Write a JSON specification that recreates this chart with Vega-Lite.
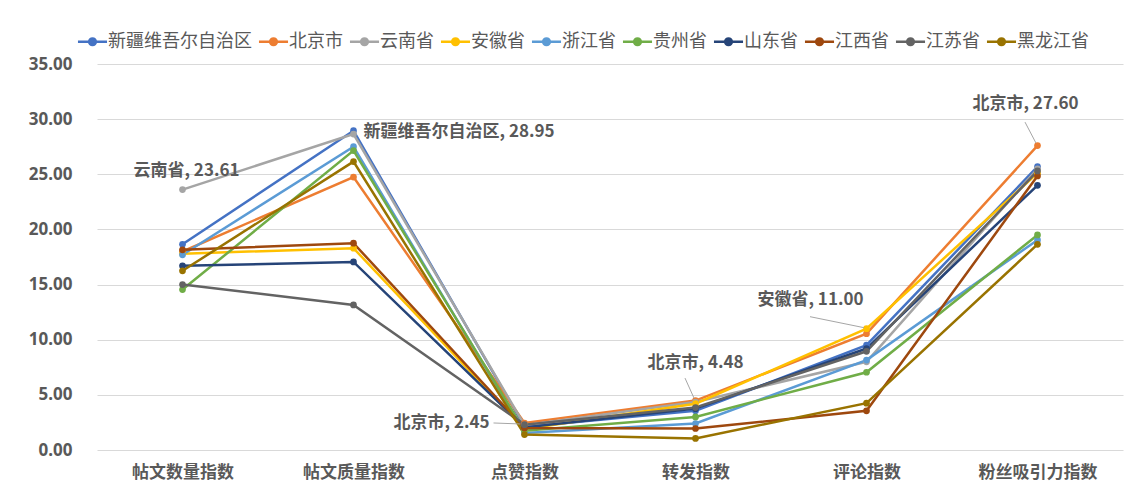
{
  "$schema": "https://vega.github.io/schema/vega-lite/v6.json",
  "width": 1026,
  "height": 386,
  "autosize": {"type": "none"},
  "padding": {"left": 97, "top": 64, "right": 2, "bottom": 46},
  "background": "white",
  "config": {
    "font": "Noto Sans, Noto Sans CJK SC",
    "view": {"stroke": null}
  },
  "datasets": {
    "main": [
      {"prov": "新疆维吾尔自治区", "idx": "帖文数量指数", "v": 18.65},
      {"prov": "新疆维吾尔自治区", "idx": "帖文质量指数", "v": 28.95},
      {"prov": "新疆维吾尔自治区", "idx": "点赞指数", "v": 2.10},
      {"prov": "新疆维吾尔自治区", "idx": "转发指数", "v": 3.55},
      {"prov": "新疆维吾尔自治区", "idx": "评论指数", "v": 9.50},
      {"prov": "新疆维吾尔自治区", "idx": "粉丝吸引力指数", "v": 25.70},
      {"prov": "北京市", "idx": "帖文数量指数", "v": 18.00},
      {"prov": "北京市", "idx": "帖文质量指数", "v": 24.75},
      {"prov": "北京市", "idx": "点赞指数", "v": 2.45},
      {"prov": "北京市", "idx": "转发指数", "v": 4.48},
      {"prov": "北京市", "idx": "评论指数", "v": 10.55},
      {"prov": "北京市", "idx": "粉丝吸引力指数", "v": 27.60},
      {"prov": "云南省", "idx": "帖文数量指数", "v": 23.61},
      {"prov": "云南省", "idx": "帖文质量指数", "v": 28.65},
      {"prov": "云南省", "idx": "点赞指数", "v": 2.25},
      {"prov": "云南省", "idx": "转发指数", "v": 4.35},
      {"prov": "云南省", "idx": "评论指数", "v": 8.00},
      {"prov": "云南省", "idx": "粉丝吸引力指数", "v": 25.50},
      {"prov": "安徽省", "idx": "帖文数量指数", "v": 17.80},
      {"prov": "安徽省", "idx": "帖文质量指数", "v": 18.30},
      {"prov": "安徽省", "idx": "点赞指数", "v": 1.90},
      {"prov": "安徽省", "idx": "转发指数", "v": 4.20},
      {"prov": "安徽省", "idx": "评论指数", "v": 11.00},
      {"prov": "安徽省", "idx": "粉丝吸引力指数", "v": 25.10},
      {"prov": "浙江省", "idx": "帖文数量指数", "v": 17.70},
      {"prov": "浙江省", "idx": "帖文质量指数", "v": 27.50},
      {"prov": "浙江省", "idx": "点赞指数", "v": 1.55},
      {"prov": "浙江省", "idx": "转发指数", "v": 2.40},
      {"prov": "浙江省", "idx": "评论指数", "v": 8.15},
      {"prov": "浙江省", "idx": "粉丝吸引力指数", "v": 19.05},
      {"prov": "贵州省", "idx": "帖文数量指数", "v": 14.55},
      {"prov": "贵州省", "idx": "帖文质量指数", "v": 27.15},
      {"prov": "贵州省", "idx": "点赞指数", "v": 1.75},
      {"prov": "贵州省", "idx": "转发指数", "v": 3.00},
      {"prov": "贵州省", "idx": "评论指数", "v": 7.05},
      {"prov": "贵州省", "idx": "粉丝吸引力指数", "v": 19.50},
      {"prov": "山东省", "idx": "帖文数量指数", "v": 16.70},
      {"prov": "山东省", "idx": "帖文质量指数", "v": 17.05},
      {"prov": "山东省", "idx": "点赞指数", "v": 2.05},
      {"prov": "山东省", "idx": "转发指数", "v": 3.75},
      {"prov": "山东省", "idx": "评论指数", "v": 9.20},
      {"prov": "山东省", "idx": "粉丝吸引力指数", "v": 24.00},
      {"prov": "江西省", "idx": "帖文数量指数", "v": 18.15},
      {"prov": "江西省", "idx": "帖文质量指数", "v": 18.75},
      {"prov": "江西省", "idx": "点赞指数", "v": 2.00},
      {"prov": "江西省", "idx": "转发指数", "v": 1.95},
      {"prov": "江西省", "idx": "评论指数", "v": 3.55},
      {"prov": "江西省", "idx": "粉丝吸引力指数", "v": 24.85},
      {"prov": "江苏省", "idx": "帖文数量指数", "v": 15.00},
      {"prov": "江苏省", "idx": "帖文质量指数", "v": 13.15},
      {"prov": "江苏省", "idx": "点赞指数", "v": 2.30},
      {"prov": "江苏省", "idx": "转发指数", "v": 3.85},
      {"prov": "江苏省", "idx": "评论指数", "v": 8.95},
      {"prov": "江苏省", "idx": "粉丝吸引力指数", "v": 25.30},
      {"prov": "黑龙江省", "idx": "帖文数量指数", "v": 16.25},
      {"prov": "黑龙江省", "idx": "帖文质量指数", "v": 26.15},
      {"prov": "黑龙江省", "idx": "点赞指数", "v": 1.40},
      {"prov": "黑龙江省", "idx": "转发指数", "v": 1.05},
      {"prov": "黑龙江省", "idx": "评论指数", "v": 4.25},
      {"prov": "黑龙江省", "idx": "粉丝吸引力指数", "v": 18.65}
    ]
  },
  "data": {"name": "main"},
  "encoding": {
    "x": {
      "field": "idx",
      "type": "nominal",
      "sort": ["帖文数量指数", "帖文质量指数", "点赞指数", "转发指数", "评论指数", "粉丝吸引力指数"],
      "scale": {"type": "point", "padding": 0.5},
      "axis": {
        "title": null,
        "labelAngle": 0,
        "ticks": false,
        "domain": false,
        "grid": false,
        "labelPadding": 14,
        "labelFontSize": 17,
        "labelFontWeight": "bold",
        "labelColor": "#595959",
        "labelFont": "Noto Sans CJK SC"
      }
    },
    "y": {
      "field": "v",
      "type": "quantitative",
      "scale": {"domain": [0, 35], "nice": false, "zero": true},
      "axis": {
        "title": null,
        "values": [0, 5, 10, 15, 20, 25, 30, 35],
        "format": ".2f",
        "ticks": false,
        "domain": false,
        "grid": true,
        "gridColor": "#D9D9D9",
        "gridWidth": 1,
        "labelPadding": 25,
        "labelFontSize": 17,
        "labelFontWeight": "bold",
        "labelColor": "#595959",
        "labelFont": "Noto Sans"
      }
    }
  },
  "layer": [
    {
      "mark": {"type": "line", "strokeWidth": 2.5},
      "encoding": {
        "color": {
          "field": "prov",
          "type": "nominal",
          "scale": {
            "domain": ["新疆维吾尔自治区", "北京市", "云南省", "安徽省", "浙江省", "贵州省", "山东省", "江西省", "江苏省", "黑龙江省"],
            "range": ["#4472C4", "#ED7D31", "#A5A5A5", "#FFC000", "#5B9BD5", "#70AD47", "#264478", "#9E480E", "#636363", "#997300"]
          },
          "sort": null,
          "legend": {
            "title": null,
            "orient": "none",
            "direction": "horizontal",
            "columns": 10,
            "legendX": -17,
            "legendY": -35,
            "symbolType": "M-1.3,0H1.3M-0.3,0A0.3,0.3,0,1,0,0.3,0A0.3,0.3,0,1,0,-0.3,0Z",
            "symbolSize": 500,
            "symbolStrokeWidth": 2.5,
            "labelFontSize": 18,
            "labelFont": "Noto Sans CJK SC",
            "labelColor": "#595959",
            "labelOffset": 3,
            "columnPadding": 1,
            "encode": {
              "symbols": {"update": {"fill": {"scale": "color", "field": "value"}}}
            }
          }
        }
      }
    },
    {
      "mark": {"type": "point", "filled": true, "size": 45, "opacity": 1},
      "encoding": {
        "color": {"field": "prov", "type": "nominal", "legend": null}
      }
    },
    {
      "transform": [{"filter": "datum.prov === '云南省' && datum.idx === '帖文数量指数'"}],
      "mark": {"type": "text", "text": "云南省, 23.61", "dx": 4, "dy": -19, "align": "center", "baseline": "middle", "fontSize": 17, "fontWeight": "bold", "color": "#595959", "font": "Noto Sans CJK SC"}
    },
    {
      "transform": [{"filter": "datum.prov === '新疆维吾尔自治区' && datum.idx === '帖文质量指数'"}],
      "mark": {"type": "text", "text": "新疆维吾尔自治区, 28.95", "dx": 10, "dy": 1, "align": "left", "baseline": "middle", "fontSize": 17, "fontWeight": "bold", "color": "#595959", "font": "Noto Sans CJK SC"}
    },
    {
      "transform": [{"filter": "datum.prov === '北京市' && datum.idx === '点赞指数'"}],
      "mark": {"type": "text", "text": "北京市, 2.45", "dx": -35, "dy": 0, "align": "right", "baseline": "middle", "fontSize": 17, "fontWeight": "bold", "color": "#595959", "font": "Noto Sans CJK SC"}
    },
    {
      "transform": [{"filter": "datum.prov === '北京市' && datum.idx === '转发指数'"}],
      "mark": {"type": "text", "text": "北京市, 4.48", "dx": 0, "dy": -38, "align": "center", "baseline": "middle", "fontSize": 17, "fontWeight": "bold", "color": "#595959", "font": "Noto Sans CJK SC"}
    },
    {
      "transform": [{"filter": "datum.prov === '安徽省' && datum.idx === '评论指数'"}],
      "mark": {"type": "text", "text": "安徽省, 11.00", "dx": -56, "dy": -29, "align": "center", "baseline": "middle", "fontSize": 17, "fontWeight": "bold", "color": "#595959", "font": "Noto Sans CJK SC"}
    },
    {
      "transform": [{"filter": "datum.prov === '北京市' && datum.idx === '粉丝吸引力指数'"}],
      "mark": {"type": "text", "text": "北京市, 27.60", "dx": -12, "dy": -42, "align": "center", "baseline": "middle", "fontSize": 17, "fontWeight": "bold", "color": "#595959", "font": "Noto Sans CJK SC"}
    },
    {
      "transform": [{"filter": "datum.prov === '北京市' && datum.idx === '点赞指数'"}],
      "mark": {"type": "rule", "color": "#A6A6A6", "strokeWidth": 1, "xOffset": -31, "yOffset": 0, "x2Offset": -4, "y2Offset": 1},
      "encoding": {"x2": {"field": "idx"}, "y2": {"field": "v"}}
    },
    {
      "transform": [{"filter": "datum.prov === '北京市' && datum.idx === '转发指数'"}],
      "mark": {"type": "rule", "color": "#A6A6A6", "strokeWidth": 1, "xOffset": -10.5, "yOffset": -22.5, "x2Offset": -1.5, "y2Offset": -2.5},
      "encoding": {"x2": {"field": "idx"}, "y2": {"field": "v"}}
    },
    {
      "transform": [{"filter": "datum.prov === '安徽省' && datum.idx === '评论指数'"}],
      "mark": {"type": "rule", "color": "#A6A6A6", "strokeWidth": 1, "xOffset": -56.5, "yOffset": -12, "x2Offset": -2.5, "y2Offset": -1},
      "encoding": {"x2": {"field": "idx"}, "y2": {"field": "v"}}
    },
    {
      "transform": [{"filter": "datum.prov === '北京市' && datum.idx === '粉丝吸引力指数'"}],
      "mark": {"type": "rule", "color": "#A6A6A6", "strokeWidth": 1, "xOffset": -12.5, "yOffset": -23.5, "x2Offset": -1.5, "y2Offset": -2.5},
      "encoding": {"x2": {"field": "idx"}, "y2": {"field": "v"}}
    }
  ]
}
